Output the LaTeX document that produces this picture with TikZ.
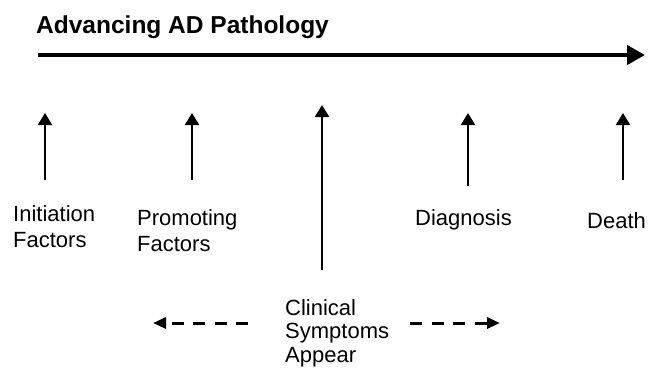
\documentclass[tikz,border=0pt]{standalone}
\usepackage{fontspec}
\setmainfont{Liberation Sans}
\usetikzlibrary{arrows.meta}
\begin{document}
\begin{tikzpicture}[x=1pt,y=-1pt,
  titletext/.style={font=\fontsize{24.5}{28}\selectfont\bfseries, inner sep=0pt, anchor=base west},
  lbl/.style={font=\fontsize{22}{26}\selectfont, inner sep=0pt, anchor=base west, align=left},
  mainarrow/.style={line width=4.5pt, -{Triangle[length=18pt,width=19pt]}},
  uparrow/.style={line width=2.2pt, -{Triangle[length=12pt,width=14pt]}},
  dasharrow/.style={line width=3pt, dash pattern=on 12pt off 9.5pt, -{Triangle[length=13pt,width=11pt]}}]
\useasboundingbox (0,0) rectangle (661,368);

\node[titletext] (title) at (36,33) {Advancing AD Pathology};
\coordinate (tlstart) at (38,55);
\coordinate (tlend) at (645,55);
\draw[mainarrow] (tlstart) -- (tlend);

% vertical arrows
\coordinate (a1b) at (45,180); \coordinate (a1t) at (45,113);
\coordinate (a2b) at (192,180); \coordinate (a2t) at (192,113);
\coordinate (a3b) at (322,270); \coordinate (a3t) at (322,105);
\coordinate (a4b) at (468,186); \coordinate (a4t) at (468,113);
\coordinate (a5b) at (623,180); \coordinate (a5t) at (623,113);
\draw[uparrow] (a1b) -- (a1t);
\draw[uparrow] (a2b) -- (a2t);
\draw[uparrow, line width=2.6pt] (a3b) -- (a3t);
\draw[uparrow] (a4b) -- (a4t);
\draw[uparrow] (a5b) -- (a5t);

% labels (base anchor = baseline of the last line)
\node[lbl] (init) at (13,247) {Initiation\\Factors};
\node[lbl] (prom) at (137,251) {Promoting\\Factors};
\node[lbl] (diag) at (415,225) {Diagnosis};
\node[lbl] (death) at (587,228) {Death};
\node[lbl, font=\fontsize{22}{23.5}\selectfont] (clin) at (285,362) {Clinical\\Symptoms\\Appear};

% dashed arrows
\coordinate (dlstart) at (248,323); \coordinate (dlend) at (153,323);
\coordinate (drstart) at (410,323); \coordinate (drend) at (500,323);
\draw[dasharrow] (dlstart) -- (dlend);
\draw[dasharrow] (drstart) -- (drend);
\end{tikzpicture}
\end{document}
